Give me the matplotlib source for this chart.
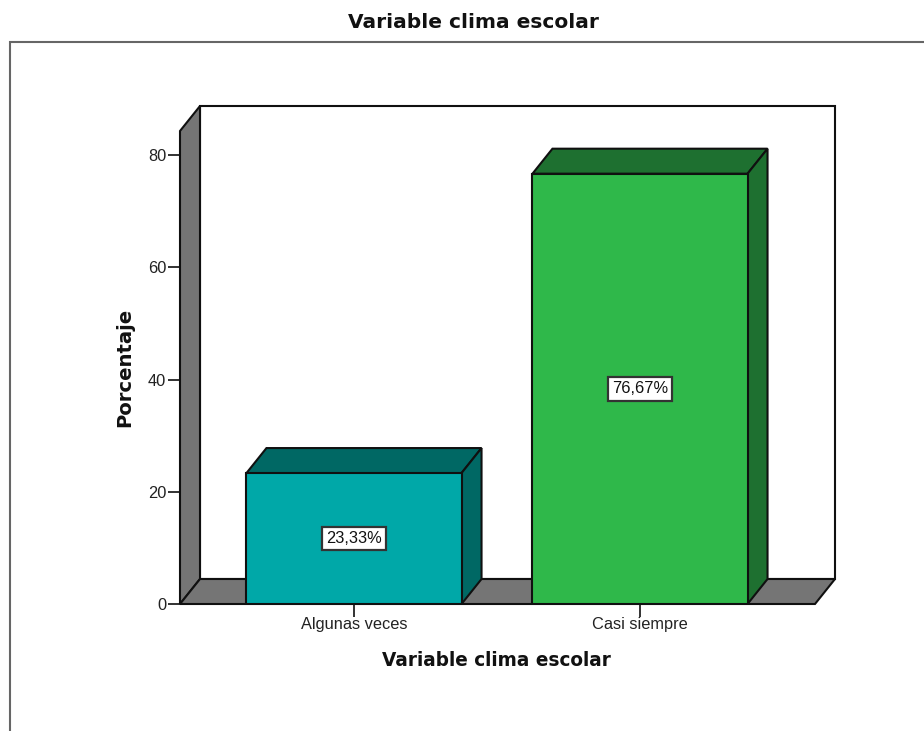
import matplotlib
matplotlib.use("Agg")
import matplotlib.pyplot as plt
from matplotlib.patches import Polygon, Rectangle
from matplotlib.lines import Line2D

categories = ["Algunas veces", "Casi siempre"]
values = [23.33, 76.67]
labels = ["23,33%", "76,67%"]
yticks = [0, 20, 40, 60, 80]

front_colors = ["#00A8A8", "#2FB84A"]
dark_colors = ["#006864", "#1E7030"]
wall = "#757575"
edge = "#101010"

W, H = 924, 731
plt.rcParams["font.family"] = ["Liberation Sans", "DejaVu Sans"]
fig = plt.figure(figsize=(W / 100, H / 100), dpi=100)
L, R, B, T = 180, 815, 604, 131
ax = fig.add_axes([L / W, 1 - B / H, (R - L) / W, (B - T) / H])
xmin = (L - 354) / 286
xmax = 1 + (R - 640) / 286
ymax = (B - T) / 5.6125
ax.set_xlim(xmin, xmax)
ax.set_ylim(0, ymax)
ax.patch.set_visible(False)
for s in ax.spines.values():
    s.set_visible(False)

dx = 20 / 286
dy = 25 / 5.6125
lw = 1.5
bw = 0.376


def poly(pts, fc, z):
    ax.add_patch(Polygon(pts, closed=True, fc=fc, ec=edge, lw=lw, zorder=z,
                         clip_on=False, joinstyle="miter"))


# back wall, side wall, floor
poly([(xmin + dx, dy), (xmax + dx, dy), (xmax + dx, ymax + dy), (xmin + dx, ymax + dy)], "white", 1)
poly([(xmin, 0), (xmin + dx, dy), (xmin + dx, ymax + dy), (xmin, ymax)], wall, 2)
poly([(xmin, 0), (xmax, 0), (xmax + dx, dy), (xmin + dx, dy)], wall, 2)

for i, (v, f, d, t) in enumerate(zip(values, front_colors, dark_colors, labels)):
    l, r = i - bw, i + bw
    poly([(l, v), (r, v), (r + dx, v + dy), (l + dx, v + dy)], d, 3)
    poly([(r, 0), (r + dx, dy), (r + dx, v + dy), (r, v)], d, 3)
    ax.add_patch(Rectangle((l, 0), r - l, v, fc=f, ec=edge, lw=lw, zorder=4))
    ax.text(i, v / 2, t, ha="center", va="center", fontsize=11.8, color="#111111", zorder=6,
            bbox=dict(boxstyle="square,pad=0.27", fc="white", ec="#333333", lw=1.6))

ax.set_xticks(range(len(categories)), categories)
ax.set_yticks(yticks)
ax.tick_params(axis="both", length=9, width=1.3, color="#222222", labelsize=11.8,
               labelcolor="#222222", pad=1)
ax.tick_params(axis="x", pad=0)

heading = ["DejaVu Sans", "Liberation Sans"]
fig.text(473 / W, 1 - 23 / H, "Variable clima escolar", ha="center", va="center",
         fontsize=14.5, fontweight="bold", color="#111111", family=heading)
fig.text(496 / W, 1 - 660 / H, "Variable clima escolar", ha="center", va="center",
         fontsize=13.35, fontweight="bold", color="#111111", family=heading)
fig.text(125 / W, 1 - 367 / H, "Porcentaje", ha="center", va="center", rotation=90,
         fontsize=14.1, fontweight="bold", color="#111111", family=heading)

fig.add_artist(Line2D([9.5 / W, 9.5 / W, 1], [0, 1 - 42 / H, 1 - 42 / H],
                      color="#666666", lw=1.5, solid_joinstyle="miter"))

fig.savefig("out.png", dpi=100)
